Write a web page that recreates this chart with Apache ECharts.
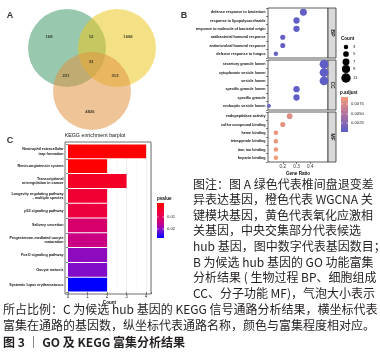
<!DOCTYPE html>
<html><head><meta charset="utf-8">
<script src="https://cdn.jsdelivr.net/npm/echarts@6/dist/echarts.min.js"></script>
<style>html,body{margin:0;padding:0;background:#fff}#c{width:380px;height:352px}</style>
</head><body><div id="c"></div>
<script>
// ---------- DATA ----------
// Panel A: Venn region counts (green only, green∩yellow, yellow only, centre, green∩orange, yellow∩orange, orange only)
const vennCounts = [168, 12, 1668, 33, 231, 313, 4826];

// Panel B: GO enrichment (BP / CC / MF)
const bpTerms = ['defense response to bacterium','response to lipopolysaccharide','response to molecule of bacterial origin','antibacterial humoral response','antimicrobial humoral response','defense response to fungus'];
const bpRatio = [0.35, 0.30, 0.30, 0.20, 0.20, 0.15];
const bpCount = [7, 6, 6, 4, 4, 3];
const bpPadj  = [0.0006, 0.0005, 0.0005, 0.0007, 0.0007, 0.0008];

const ccTerms = ['secretory granule lumen','cytoplasmic vesicle lumen','vesicle lumen','specific granule lumen','specific granule','endocytic vesicle lumen'];
const ccRatio = [0.50, 0.50, 0.50, 0.30, 0.30, 0.10];
const ccCount = [10, 10, 10, 6, 6, 2];
const ccPadj  = [0.0004, 0.0004, 0.0004, 0.0005, 0.0005, 0.0006];

const mfTerms = ['endopeptidase activity','sulfur compound binding','heme binding','tetrapyrrole binding','iron ion binding','heparin binding'];
const mfRatio = [0.25, 0.20, 0.15, 0.15, 0.15, 0.15];
const mfCount = [5, 4, 3, 3, 3, 3];
const mfPadj  = [0.0078, 0.0083, 0.0086, 0.0087, 0.0088, 0.0092];

const goTicks = [0.2, 0.3, 0.4];
const countLegend = [3, 5, 7, 9, 11];
const padjLegend = ['0.0075', '0.0050', '0.0025'];

// Panel C: KEGG enrichment
const keggTerms = ['Neutrophil extracellular\ntrap formation','Renin-angiotensin system','Transcriptional\nmisregulation in cancer','Longevity regulating pathway\n- multiple species','p53 signaling pathway','Salivary secretion','Progesterone-mediated oocyte\nmaturation','FoxO signaling pathway','Oocyte meiosis','Systemic lupus erythematosus'];
const keggCount = [4, 2, 3, 2, 2, 2, 2, 2, 2, 2];
const keggP     = [0.0010, 0.0012, 0.0045, 0.0055, 0.0065, 0.0110, 0.0135, 0.0195, 0.0205, 0.0290];
const keggTicks = [0, 1, 2, 3, 4];
const pvalueLegend = ['0.01', '0.02'];

// ---------- LAYOUT / STYLE ----------
const FONT = 'Liberation Sans, Arial, sans-serif';
const CJK = '"Noto Sans CJK SC", sans-serif';
const vennCircles = [[67,48,'rgba(68,155,105,0.55)'],[117,48,'rgba(235,200,33,0.55)'],[92,91,'rgba(225,150,68,0.55)']];
const vennLabelPos = [[49,37],[91,37],[128,37],[91,62],[66,76],[115,76],[90,112]];
const dotSize = c => 2.6 + c * 0.62;
const goFacets = [
  {terms: bpTerms, ratio: bpRatio, count: bpCount, padj: bpPadj, top: 8, h: 50, strip: 'BP'},
  {terms: ccTerms, ratio: ccRatio, count: ccCount, padj: ccPadj, top: 60, h: 50, strip: 'CC'},
  {terms: mfTerms, ratio: mfRatio, count: mfCount, padj: mfPadj, top: 112, h: 50, strip: 'MF'}
];
const GOL = 268, GOW = 60;

const grids = [], xAxes = [], yAxes = [], series = [], graphics = [];

// Grid 0: Venn (pixel-like coordinates)
grids.push({left: 0, top: 0, width: 190, height: 190});
xAxes.push({type: 'value', gridIndex: 0, min: 0, max: 190, show: false});
yAxes.push({type: 'value', gridIndex: 0, min: 0, max: 190, inverse: true, show: false});
series.push({type: 'scatter', xAxisIndex: 0, yAxisIndex: 0, symbolSize: 78, silent: true,
  data: vennCircles.map(c => ({value: [c[0], c[1]], itemStyle: {color: c[2], opacity: 1}}))});
series.push({type: 'scatter', xAxisIndex: 0, yAxisIndex: 0, symbolSize: 0, silent: true,
  data: vennCounts.map((v, i) => [vennLabelPos[i][0], vennLabelPos[i][1], v]),
  label: {show: true, position: 'inside', formatter: p => p.value[2], fontSize: 4.2, fontWeight: 'bold', color: '#111', fontFamily: FONT}});

// GO facets
goFacets.forEach((f, k) => {
  const gi = grids.length;
  grids.push({left: GOL, top: f.top, width: GOW, height: f.h, show: true, borderColor: '#333', borderWidth: 0.8, backgroundColor: '#fff'});
  const last = k === goFacets.length - 1;
  xAxes.push({type: 'value', gridIndex: gi, min: 0.0927, max: 0.529,
    axisLine: {show: false}, splitLine: {show: false},
    axisTick: {show: last, length: 2, lineStyle: {color: '#333', width: 0.6}, customValues: goTicks},
    axisLabel: {show: last, fontSize: 4.6, color: '#333', margin: 2.5, fontFamily: FONT, customValues: goTicks},
    name: last ? 'Gene Ratio' : '', nameLocation: 'middle', nameGap: 9,
    nameTextStyle: {fontSize: 4.6, fontWeight: 'bold', color: '#111', fontFamily: FONT}});
  yAxes.push({type: 'category', gridIndex: gi, data: f.terms, inverse: true,
    axisLine: {show: false}, axisTick: {show: true, length: 2, lineStyle: {color: '#333', width: 0.6}},
    axisLabel: {fontSize: 3.7, color: '#111', margin: 2.5, fontFamily: FONT, fontWeight: 'bold'}});
  series.push({type: 'scatter', name: f.strip, xAxisIndex: gi, yAxisIndex: gi,
    itemStyle: {opacity: 1},
    data: f.ratio.map((r, i) => [r, i, f.count[i], f.padj[i]]),
    symbolSize: v => dotSize(v[2]), clip: false});
  graphics.push({type: 'rect', shape: {x: GOL + GOW, y: f.top, width: 8, height: f.h},
    style: {fill: '#d9d9d9', stroke: '#333', lineWidth: 0.8}});
  graphics.push({type: 'text', x: GOL + GOW + 4, y: f.top + f.h / 2, rotation: -Math.PI / 2,
    style: {text: f.strip, font: 'bold 5px ' + FONT, fill: '#1a1a1a', align: 'center', verticalAlign: 'middle'}});
});
const goSeriesIdx = [2, 3, 4];

// KEGG grid
const kg = grids.length;
grids.push({left: 68, top: 144, width: 83, height: 148});
xAxes.push({type: 'value', gridIndex: kg, min: 0, max: 4.25, interval: 1,
  axisLine: {show: false},
  axisTick: {show: true, length: 2, lineStyle: {color: '#333', width: 0.6}},
  axisLabel: {fontSize: 4.6, color: '#333', margin: 2.5, fontFamily: FONT, customValues: keggTicks},
  splitLine: {show: true, lineStyle: {color: '#e6e6e6', width: 0.7}},
  minorTick: {show: false, splitNumber: 2},
  minorSplitLine: {show: true, lineStyle: {color: '#f2f2f2', width: 0.5}},
  name: 'Count', nameLocation: 'middle', nameGap: 8,
  nameTextStyle: {fontSize: 4.6, fontWeight: 'bold', color: '#111', fontFamily: FONT}});
yAxes.push({type: 'category', gridIndex: kg, data: keggTerms, inverse: true,
  axisLine: {show: false}, axisTick: {show: true, length: 2, lineStyle: {color: '#333', width: 0.6}},
  axisLabel: {fontSize: 3.7, lineHeight: 4.4, color: '#111', margin: 4.5, fontFamily: FONT, fontWeight: 'bold'}});
series.push({type: 'bar', xAxisIndex: kg, yAxisIndex: kg, barCategoryGap: '7%',
  data: keggCount.map((c, i) => [c, i, keggP[i]]), encode: {x: 0, y: 1}});
const keggSeriesIdx = series.length - 1;
graphics.push({type: 'rect', shape: {x: 65, y: 142, width: 86, height: 152}, z: 10, silent: true,
  style: {fill: 'none', stroke: '#4d4d4d', lineWidth: 0.8}});
// KEGG title
graphics.push({type: 'text', x: 95, y: 136, style: {text: 'KEGG enrichment barplot', font: '5.3px ' + FONT, fill: '#111', align: 'center', verticalAlign: 'middle'}});

// Panel letters
[['A', 10, 16], ['B', 184, 16], ['C', 10, 141]].forEach(l => graphics.push({type: 'text', x: l[1], y: l[2],
  style: {text: l[0], font: 'bold 9px ' + FONT, fill: '#333', align: 'center', verticalAlign: 'middle'}}));

// Count legend
graphics.push({type: 'text', x: 341, y: 39, style: {text: 'Count', font: 'bold 4.6px ' + FONT, fill: '#111', verticalAlign: 'middle'}});
const cy = [47, 54, 62, 69, 78];
countLegend.forEach((c, i) => {
  graphics.push({type: 'circle', shape: {cx: 346, cy: cy[i], r: dotSize(c) / 2}, style: {fill: '#000'}});
  graphics.push({type: 'text', x: 353, y: cy[i], style: {text: String(c), font: '4.2px ' + FONT, fill: '#222', verticalAlign: 'middle'}});
});
// p.adjust legend
graphics.push({type: 'text', x: 340, y: 93, style: {text: 'p.adjust', font: 'bold 4.6px ' + FONT, fill: '#111', verticalAlign: 'middle'}});
graphics.push({type: 'rect', shape: {x: 341, y: 97, width: 7, height: 35},
  style: {fill: new echarts.graphic.LinearGradient(0, 0, 0, 1, [{offset: 0, color: '#f49b76'}, {offset: 0.5, color: '#b0709f'}, {offset: 1, color: '#5a5dc8'}])}});
[104, 114, 123].forEach((y, i) => {
  graphics.push({type: 'line', shape: {x1: 341, y1: y, x2: 342.5, y2: y}, style: {stroke: '#fff', lineWidth: 0.6}});
  graphics.push({type: 'line', shape: {x1: 346.5, y1: y, x2: 348, y2: y}, style: {stroke: '#fff', lineWidth: 0.6}});
  graphics.push({type: 'text', x: 351, y: y, style: {text: padjLegend[i], font: '4.2px ' + FONT, fill: '#222', verticalAlign: 'middle'}});
});
// pvalue legend (KEGG)
graphics.push({type: 'text', x: 157, y: 199, style: {text: 'pvalue', font: 'bold 4.6px ' + FONT, fill: '#111', verticalAlign: 'middle'}});
graphics.push({type: 'rect', shape: {x: 157, y: 203, width: 7, height: 35},
  style: {fill: new echarts.graphic.LinearGradient(0, 0, 0, 1, [{offset: 0, color: '#ff0000'}, {offset: 0.35, color: '#e8004f'}, {offset: 0.6, color: '#c0008f'}, {offset: 0.8, color: '#7010d8'}, {offset: 1, color: '#0000ff'}])}});
[217, 229].forEach((y, i) => {
  graphics.push({type: 'line', shape: {x1: 157, y1: y, x2: 158.5, y2: y}, style: {stroke: '#fff', lineWidth: 0.6}});
  graphics.push({type: 'line', shape: {x1: 162.5, y1: y, x2: 164, y2: y}, style: {stroke: '#fff', lineWidth: 0.6}});
  graphics.push({type: 'text', x: 167, y: y, style: {text: pvalueLegend[i], font: '4.2px ' + FONT, fill: '#222', verticalAlign: 'middle'}});
});

// Caption
const capRight = [
  [184, '图注：图 A 绿色代表椎间盘退变差'],
  [199, '异表达基因，橙色代表 WGCNA 关'],
  [215, '键模块基因，黄色代表氧化应激相'],
  [230, '关基因，中央交集部分代表候选'],
  [246, 'hub 基因，图中数字代表基因数目；'],
  [262, 'B 为候选 hub 基因的 GO 功能富集'],
  [277, '分析结果 ( 生物过程 BP、细胞组成'],
  [293, 'CC、分子功能 MF)，气泡大小表示']
];
capRight.forEach(l => graphics.push({type: 'text', x: 193, y: l[0], style: {text: l[1], font: '12px ' + CJK, fill: '#231f20', verticalAlign: 'middle'}}));
graphics.push({type: 'text', x: 3, y: 309, style: {text: '所占比例：C 为候选 hub 基因的 KEGG 信号通路分析结果，横坐标代表', font: '12px ' + CJK, fill: '#231f20', verticalAlign: 'middle'}});
graphics.push({type: 'text', x: 3, y: 325, style: {text: '富集在通路的基因数，纵坐标代表通路名称，颜色与富集程度相对应。', font: '12px ' + CJK, fill: '#231f20', verticalAlign: 'middle'}});
graphics.push({type: 'text', x: 3, y: 342, style: {text: '图 3 ｜ GO 及 KEGG 富集分析结果', font: 'bold 12px ' + CJK, fill: '#231f20', verticalAlign: 'middle'}});

const chart = echarts.init(document.getElementById('c'), null, {renderer: 'canvas'});
chart.setOption({
  animation: false,
  backgroundColor: '#fff',
  textStyle: {fontFamily: FONT},
  grid: grids, xAxis: xAxes, yAxis: yAxes, series: series,
  visualMap: [
    {type: 'continuous', show: false, seriesIndex: goSeriesIdx, dimension: 3, min: 0.00013, max: 0.0093,
      inRange: {color: ['#5a5dc8', '#b0709f', '#f49b76']}},
    {type: 'continuous', show: false, seriesIndex: keggSeriesIdx, dimension: 2, min: 0.001, max: 0.029,
      inRange: {color: ['#ff0000', '#e8004f', '#c0008f', '#7010d8', '#0000ff']}}
  ],
  graphic: graphics
});
</script></body></html>
